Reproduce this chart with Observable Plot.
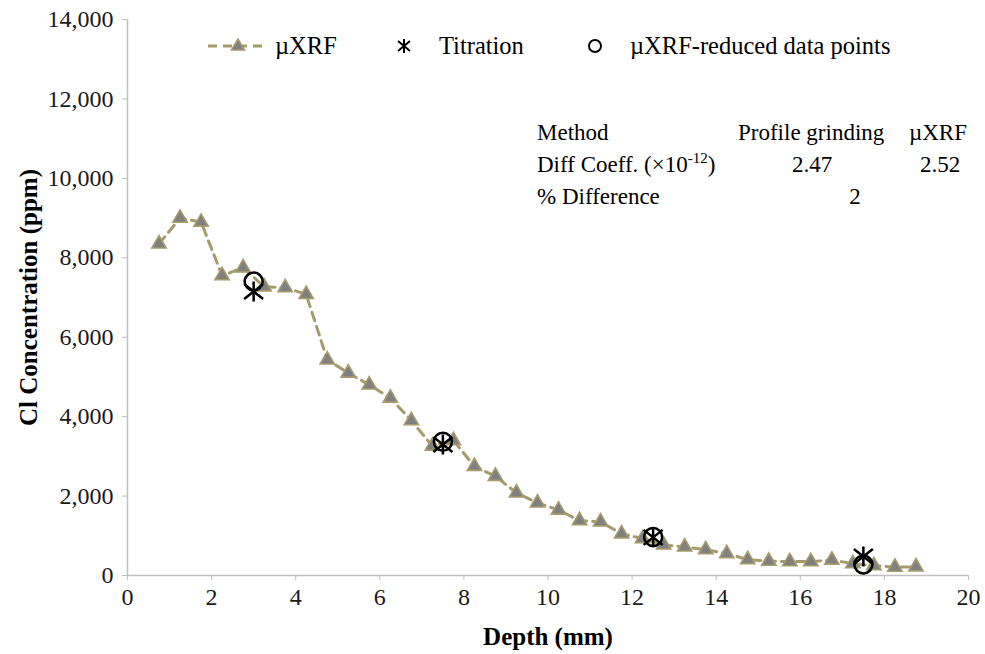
<!DOCTYPE html>
<html><head><meta charset="utf-8">
<script src="https://cdn.jsdelivr.net/npm/d3@7"></script>
<script src="https://cdn.jsdelivr.net/npm/@observablehq/plot@0.6"></script>
<style>
body{margin:0;background:#fff;}
#wrap{position:relative;width:985px;height:654px;font-family:"Liberation Serif",Tinos,"Times New Roman","DejaVu Serif",serif;color:#000;}
.ab{position:absolute;white-space:nowrap;line-height:1;}
.lg{font-size:24.5px;}
.tb{font-size:23px;}
.c{transform:translateX(-50%);}
sup{font-size:15px;vertical-align:top;position:relative;top:-2px;}
</style></head><body><div id="wrap"></div>
<script>
// µXRF profile
const depth = [0.75,1.25,1.75,2.25,2.75,3.25,3.75,4.25,4.75,5.25,5.75,6.25,6.75,7.25,7.75,8.25,8.75,9.25,9.75,10.25,10.75,11.25,11.75,12.25,12.75,13.25,13.75,14.25,14.75,15.25,15.75,16.25,16.75,17.25,17.75,18.25,18.75];
const xrfCl = [8350,9000,8900,7550,7750,7270,7250,7080,5430,5100,4800,4470,3900,3260,3400,2750,2500,2080,1830,1650,1380,1350,1050,930,770,720,650,550,400,360,350,350,390,300,250,210,220];
// Titration & reduced data
const sampleDepth = [3.0,7.5,12.5,17.5];
const titrationCl = [7150,3300,960,480];
const reducedCl = [7400,3370,970,280];
// ticks
const xTicks = [0,2,4,6,8,10,12,14,16,18,20];
const yTicks = [0,2000,4000,6000,8000,10000,12000,14000];
// legend & table text
const legendLabels = ["µXRF","Titration","µXRF-reduced data points"];
const tableHeader = ["Method","Profile grinding","µXRF"];
const tableCoeff = ["Diff Coeff. (×10<sup>-12</sup>)","2.47","2.52"];
const tableDiff = ["% Difference","2"];

const FONT = '"Liberation Serif",Tinos,"Times New Roman","DejaVu Serif",serif';
const lineColor = "#a59b6c";
const xrfRows = depth.map((d,i)=>({x:d,y:xrfCl[i]}));
const titRows = sampleDepth.map((d,i)=>({x:d,y:titrationCl[i]}));
const redRows = sampleDepth.map((d,i)=>({x:d,y:reducedCl[i]}));

const star = {draw(ctx,size){const r=Math.sqrt(size/Math.PI);const a=r*0.95,b=r*0.75;
  ctx.moveTo(0,-r);ctx.lineTo(0,r);ctx.moveTo(-a,-b);ctx.lineTo(a,b);ctx.moveTo(-a,b);ctx.lineTo(a,-b);}};

const plot = Plot.plot({
  width:985,height:654,
  marginLeft:127,marginRight:17,marginTop:19,marginBottom:79,
  style:{fontFamily:FONT,fontSize:"24px",color:"#000",background:"#fff",overflow:"visible"},
  x:{domain:[0,20]},
  y:{domain:[0,14000]},
  marks:[
    Plot.axisX({ticks:xTicks,tickSize:5,tickPadding:7,stroke:"#bfbfbf",fill:"#1a1a1a",label:null,fontSize:24}),
    Plot.axisY({ticks:yTicks,tickSize:5,tickPadding:9,stroke:"#bfbfbf",fill:"#1a1a1a",label:null,fontSize:24,tickFormat:d3.format(",")}),
    Plot.ruleY([0],{stroke:"#bfbfbf",strokeWidth:1.5}),
    Plot.ruleX([0],{stroke:"#bfbfbf",strokeWidth:1.5}),
    Plot.line(xrfRows,{x:"x",y:"y",stroke:lineColor,strokeWidth:3,strokeDasharray:"9,6"}),
    Plot.dot(xrfRows,{x:"x",y:"y",symbol:"triangle",r:5.3,fill:"#808080",stroke:lineColor,strokeWidth:1.6}),
    Plot.dot(redRows,{x:"x",y:"y",r:9,stroke:"#000",strokeWidth:2.5,fill:"none"}),
    Plot.dot(titRows,{x:"x",y:"y",symbol:star,r:10,stroke:"#000",strokeWidth:2.5}),
    Plot.text(["Cl Concentration (ppm)"],{frameAnchor:"left",textAnchor:"middle",lineAnchor:"middle",rotate:-90,dx:-99,fontWeight:"bold",fontSize:25,fill:"#000"}),
    Plot.text(["Depth (mm)"],{frameAnchor:"bottom",textAnchor:"middle",lineAnchor:"middle",dy:61,fontWeight:"bold",fontSize:25,fill:"#000"})
  ]
});
const wrap = document.getElementById("wrap");
wrap.appendChild(plot);

function add(html,cls,left,top,extra){const d=document.createElement("div");d.className="ab "+cls;d.innerHTML=html;d.style.left=left+"px";d.style.top=top+"px";if(extra)Object.assign(d.style,extra);wrap.appendChild(d);return d;}
// legend
const sw = `<svg width="62" height="20" style="display:block"><line x1="1" y1="10" x2="61" y2="10" stroke="${lineColor}" stroke-width="3" stroke-dasharray="9,6"/><path d="M31,3 L37.5,14 L24.5,14 Z" fill="#808080" stroke="${lineColor}" stroke-width="1.5"/></svg>`;
add(sw,"",207,36);
add(legendLabels[0],"lg",275,34);
add(`<svg width="16" height="16" style="display:block"><path d="M8,1 L8,15 M2,3 L14,13 M2,13 L14,3" stroke="#000" stroke-width="2" fill="none"/></svg>`,"",396,38);
add(legendLabels[1],"lg",439,34);
add(`<svg width="18" height="18" style="display:block"><circle cx="9" cy="9" r="6" stroke="#000" stroke-width="2" fill="none"/></svg>`,"",586,37);
add(legendLabels[2],"lg",630,34);
// table
add(tableHeader[0],"tb",537,121);
add(tableHeader[1],"tb",738,121);
add(tableHeader[2],"tb",0,121,{left:"auto",right:"18px"});
add(tableCoeff[0],"tb",537,153);
add(tableCoeff[1],"tb c",812,153);
add(tableCoeff[2],"tb c",940,153);
add(tableDiff[0],"tb",537,185);
add(tableDiff[1],"tb c",855,185);
</script></body></html>
